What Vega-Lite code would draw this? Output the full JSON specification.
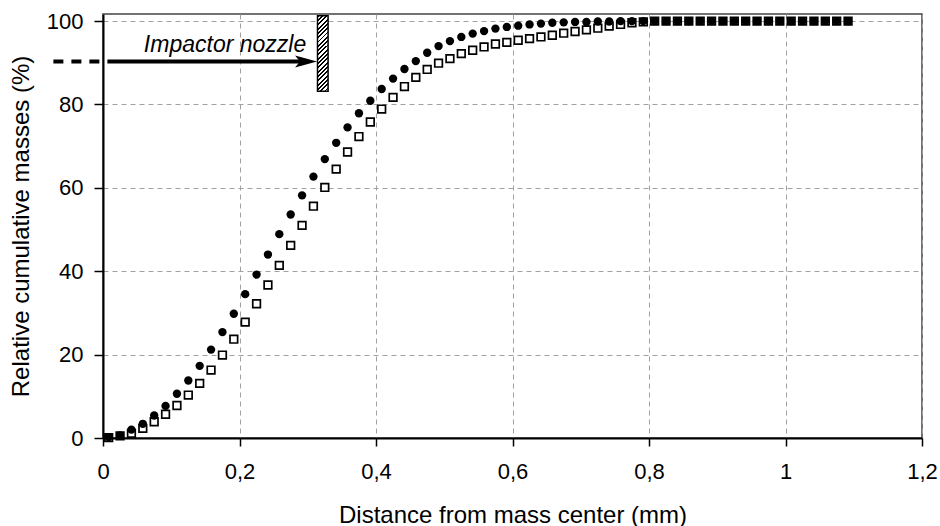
{
  "$schema": "https://vega.github.io/schema/vega-lite/v6.json",
  "width": 819,
  "height": 424,
  "autosize": {"type": "none"},
  "padding": {"left": 103, "top": 14, "right": 18, "bottom": 88},
  "background": "white",
  "config": {
    "font": "Liberation Sans",
    "view": {"stroke": "#444", "strokeWidth": 1.5}
  },
  "datasets": {
    "cum": [
      {"d": 0.00833, "c": 0.2, "s": 0.1},
      {"d": 0.025, "c": 0.6, "s": 0.5},
      {"d": 0.04167, "c": 2.0, "s": 1.1},
      {"d": 0.05833, "c": 3.4, "s": 2.3},
      {"d": 0.075, "c": 5.4, "s": 3.9},
      {"d": 0.09167, "c": 7.7, "s": 5.7},
      {"d": 0.10833, "c": 10.6, "s": 7.8},
      {"d": 0.125, "c": 13.8, "s": 10.3},
      {"d": 0.14167, "c": 17.3, "s": 13.1},
      {"d": 0.15833, "c": 21.2, "s": 16.3},
      {"d": 0.175, "c": 25.4, "s": 19.9},
      {"d": 0.19167, "c": 29.8, "s": 23.7},
      {"d": 0.20833, "c": 34.5, "s": 27.8},
      {"d": 0.225, "c": 39.2, "s": 32.2},
      {"d": 0.24167, "c": 44.0, "s": 36.7},
      {"d": 0.25833, "c": 48.9, "s": 41.4},
      {"d": 0.275, "c": 53.6, "s": 46.2},
      {"d": 0.29167, "c": 58.2, "s": 51.0},
      {"d": 0.30833, "c": 62.7, "s": 55.6},
      {"d": 0.325, "c": 66.9, "s": 60.1},
      {"d": 0.34167, "c": 70.8, "s": 64.5},
      {"d": 0.35833, "c": 74.5, "s": 68.6},
      {"d": 0.375, "c": 77.9, "s": 72.3},
      {"d": 0.39167, "c": 80.9, "s": 75.8},
      {"d": 0.40833, "c": 83.7, "s": 78.9},
      {"d": 0.425, "c": 86.2, "s": 81.7},
      {"d": 0.44167, "c": 88.5, "s": 84.3},
      {"d": 0.45833, "c": 90.4, "s": 86.5},
      {"d": 0.475, "c": 92.4, "s": 88.4},
      {"d": 0.49167, "c": 94.0, "s": 89.9},
      {"d": 0.50833, "c": 95.2, "s": 91.0},
      {"d": 0.525, "c": 96.2, "s": 92.2},
      {"d": 0.54167, "c": 97.0, "s": 93.0},
      {"d": 0.55833, "c": 97.6, "s": 93.8},
      {"d": 0.575, "c": 98.2, "s": 94.5},
      {"d": 0.59167, "c": 98.6, "s": 94.9},
      {"d": 0.60833, "c": 98.9, "s": 95.4},
      {"d": 0.625, "c": 99.2, "s": 95.8},
      {"d": 0.64167, "c": 99.4, "s": 96.2},
      {"d": 0.65833, "c": 99.6, "s": 96.6},
      {"d": 0.675, "c": 99.7, "s": 97.1},
      {"d": 0.69167, "c": 99.8, "s": 97.5},
      {"d": 0.70833, "c": 99.8, "s": 97.9},
      {"d": 0.725, "c": 99.9, "s": 98.3},
      {"d": 0.74167, "c": 99.9, "s": 98.8},
      {"d": 0.75833, "c": 100, "s": 99.2},
      {"d": 0.775, "c": 100, "s": 99.6},
      {"d": 0.79167, "c": 100, "s": 99.8},
      {"d": 0.80833, "c": 100, "s": 100},
      {"d": 0.825, "c": 100, "s": 100},
      {"d": 0.84167, "c": 100, "s": 100},
      {"d": 0.85833, "c": 100, "s": 100},
      {"d": 0.875, "c": 100, "s": 100},
      {"d": 0.89167, "c": 100, "s": 100},
      {"d": 0.90833, "c": 100, "s": 100},
      {"d": 0.925, "c": 100, "s": 100},
      {"d": 0.94167, "c": 100, "s": 100},
      {"d": 0.95833, "c": 100, "s": 100},
      {"d": 0.975, "c": 100, "s": 100},
      {"d": 0.99167, "c": 100, "s": 100},
      {"d": 1.00833, "c": 100, "s": 100},
      {"d": 1.025, "c": 100, "s": 100},
      {"d": 1.04167, "c": 100, "s": 100},
      {"d": 1.05833, "c": 100, "s": 100},
      {"d": 1.075, "c": 100, "s": 100},
      {"d": 1.09167, "c": 100, "s": 100}
    ],
    "nozzle": [{"x": 0.3143, "x2": 0.3298, "y": 83.2, "y2": 101.3}],
    "dashed": [{"x": -0.0727, "x2": 0.0205, "y": 90.3}],
    "solid": [{"x": 0.0205, "x2": 0.29, "y": 90.3}],
    "head": [{"x": 0.2975, "y": 90.3}],
    "label": [{"x": 0.1788, "y": 92.5, "t": "Impactor nozzle"}]
  },
  "layer": [
    {
      "data": {"name": "cum"},
      "mark": {"type": "point", "shape": "square", "filled": true, "fill": "white", "stroke": "black", "strokeWidth": 1.7, "size": 58, "opacity": 1},
      "encoding": {
        "x": {
          "field": "d", "type": "quantitative",
          "title": "Distance from mass center (mm)",
          "scale": {"domain": [0, 1.2], "nice": false, "zero": false},
          "axis": {
            "values": [0, 0.2, 0.4, 0.6, 0.8, 1, 1.2],
            "labelExpr": "replace(format(datum.value, '~g'), '.', ',')",
            "grid": true, "gridDash": [5, 4], "gridColor": "#a0a0a0", "gridWidth": 1,
            "domainColor": "black", "domainWidth": 2,
            "tickColor": "black", "tickSize": 8, "tickWidth": 1.5,
            "labelFontSize": 22, "labelColor": "black", "labelPadding": 15, "labelFlush": false,
            "titleFontSize": 24, "titleFontWeight": "normal", "titleColor": "black",
            "titleY": 77, "titleBaseline": "middle"
          }
        },
        "y": {
          "field": "s", "type": "quantitative",
          "title": "Relative cumulative masses (%)",
          "scale": {"domain": [0, 101.7], "nice": false},
          "axis": {
            "values": [0, 20, 40, 60, 80, 100],
            "grid": true, "gridDash": [5, 4], "gridColor": "#a0a0a0", "gridWidth": 1,
            "domainColor": "black", "domainWidth": 2,
            "tickColor": "black", "tickSize": 9, "tickWidth": 1.5,
            "labelFontSize": 22, "labelColor": "black", "labelPadding": 11,
            "titleFontSize": 24, "titleFontWeight": "normal", "titleColor": "black",
            "titleX": -82, "titleY": 212, "titleBaseline": "middle", "titleAlign": "center"
          }
        }
      }
    },
    {
      "data": {"name": "cum"},
      "mark": {"type": "circle", "color": "black", "size": 70, "opacity": 1},
      "encoding": {
        "x": {"field": "d", "type": "quantitative", "title": "Distance from mass center (mm)"},
        "y": {"field": "c", "type": "quantitative", "title": "Relative cumulative masses (%)"}
      }
    },
    {
      "data": {"name": "nozzle"},
      "mark": {
        "type": "rect", "stroke": "black", "strokeWidth": 1.5,
        "fill": {
          "gradient": "linear", "x1": 0, "y1": 0, "x2": 0.156, "y2": 1.12,
          "stops": [
            {"offset": 0, "color": "black"}, {"offset": 0.022, "color": "black"}, {"offset": 0.022, "color": "white"}, {"offset": 0.05, "color": "white"},
            {"offset": 0.05, "color": "black"}, {"offset": 0.072, "color": "black"}, {"offset": 0.072, "color": "white"}, {"offset": 0.1, "color": "white"},
            {"offset": 0.1, "color": "black"}, {"offset": 0.122, "color": "black"}, {"offset": 0.122, "color": "white"}, {"offset": 0.15, "color": "white"},
            {"offset": 0.15, "color": "black"}, {"offset": 0.172, "color": "black"}, {"offset": 0.172, "color": "white"}, {"offset": 0.2, "color": "white"},
            {"offset": 0.2, "color": "black"}, {"offset": 0.222, "color": "black"}, {"offset": 0.222, "color": "white"}, {"offset": 0.25, "color": "white"},
            {"offset": 0.25, "color": "black"}, {"offset": 0.272, "color": "black"}, {"offset": 0.272, "color": "white"}, {"offset": 0.3, "color": "white"},
            {"offset": 0.3, "color": "black"}, {"offset": 0.322, "color": "black"}, {"offset": 0.322, "color": "white"}, {"offset": 0.35, "color": "white"},
            {"offset": 0.35, "color": "black"}, {"offset": 0.372, "color": "black"}, {"offset": 0.372, "color": "white"}, {"offset": 0.4, "color": "white"},
            {"offset": 0.4, "color": "black"}, {"offset": 0.422, "color": "black"}, {"offset": 0.422, "color": "white"}, {"offset": 0.45, "color": "white"},
            {"offset": 0.45, "color": "black"}, {"offset": 0.472, "color": "black"}, {"offset": 0.472, "color": "white"}, {"offset": 0.5, "color": "white"},
            {"offset": 0.5, "color": "black"}, {"offset": 0.522, "color": "black"}, {"offset": 0.522, "color": "white"}, {"offset": 0.55, "color": "white"},
            {"offset": 0.55, "color": "black"}, {"offset": 0.572, "color": "black"}, {"offset": 0.572, "color": "white"}, {"offset": 0.6, "color": "white"},
            {"offset": 0.6, "color": "black"}, {"offset": 0.622, "color": "black"}, {"offset": 0.622, "color": "white"}, {"offset": 0.65, "color": "white"},
            {"offset": 0.65, "color": "black"}, {"offset": 0.672, "color": "black"}, {"offset": 0.672, "color": "white"}, {"offset": 0.7, "color": "white"},
            {"offset": 0.7, "color": "black"}, {"offset": 0.722, "color": "black"}, {"offset": 0.722, "color": "white"}, {"offset": 0.75, "color": "white"},
            {"offset": 0.75, "color": "black"}, {"offset": 0.772, "color": "black"}, {"offset": 0.772, "color": "white"}, {"offset": 0.8, "color": "white"},
            {"offset": 0.8, "color": "black"}, {"offset": 0.822, "color": "black"}, {"offset": 0.822, "color": "white"}, {"offset": 0.85, "color": "white"},
            {"offset": 0.85, "color": "black"}, {"offset": 0.872, "color": "black"}, {"offset": 0.872, "color": "white"}, {"offset": 0.9, "color": "white"},
            {"offset": 0.9, "color": "black"}, {"offset": 0.922, "color": "black"}, {"offset": 0.922, "color": "white"}, {"offset": 0.95, "color": "white"},
            {"offset": 0.95, "color": "black"}, {"offset": 0.972, "color": "black"}, {"offset": 0.972, "color": "white"}, {"offset": 1, "color": "white"}
          ]
        }
      },
      "encoding": {
        "x": {"field": "x", "type": "quantitative", "title": "Distance from mass center (mm)"},
        "x2": {"field": "x2"},
        "y": {"field": "y", "type": "quantitative", "title": "Relative cumulative masses (%)"},
        "y2": {"field": "y2"}
      }
    },
    {
      "data": {"name": "dashed"},
      "mark": {"type": "rule", "color": "black", "strokeWidth": 4, "strokeDash": [10, 8]},
      "encoding": {
        "x": {"field": "x", "type": "quantitative", "title": "Distance from mass center (mm)"},
        "x2": {"field": "x2"},
        "y": {"field": "y", "type": "quantitative", "title": "Relative cumulative masses (%)"}
      }
    },
    {
      "data": {"name": "solid"},
      "mark": {"type": "rule", "color": "black", "strokeWidth": 4},
      "encoding": {
        "x": {"field": "x", "type": "quantitative", "title": "Distance from mass center (mm)"},
        "x2": {"field": "x2"},
        "y": {"field": "y", "type": "quantitative", "title": "Relative cumulative masses (%)"}
      }
    },
    {
      "data": {"name": "head"},
      "mark": {"type": "point", "shape": "M-1,-0.55L1,0L-1,0.55L-0.55,0Z", "size": 484, "filled": true, "color": "black", "opacity": 1},
      "encoding": {
        "x": {"field": "x", "type": "quantitative", "title": "Distance from mass center (mm)"},
        "y": {"field": "y", "type": "quantitative", "title": "Relative cumulative masses (%)"}
      }
    },
    {
      "data": {"name": "label"},
      "mark": {"type": "text", "fontSize": 23, "fontStyle": "italic", "align": "center", "baseline": "alphabetic", "color": "black"},
      "encoding": {
        "x": {"field": "x", "type": "quantitative", "title": "Distance from mass center (mm)"},
        "y": {"field": "y", "type": "quantitative", "title": "Relative cumulative masses (%)"},
        "text": {"field": "t"}
      }
    }
  ]
}
